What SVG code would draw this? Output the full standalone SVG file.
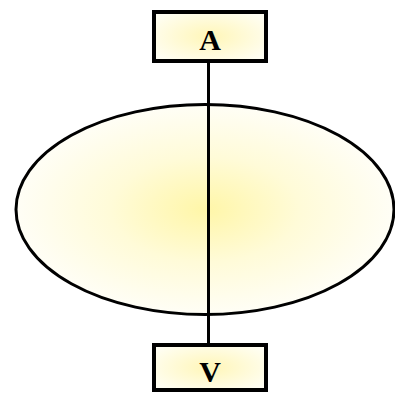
<svg xmlns="http://www.w3.org/2000/svg" width="395" height="393" viewBox="0 0 395 393">
<defs>
<radialGradient id="eg" cx="0.5" cy="0.5" r="0.5">
<stop offset="0" stop-color="#fff6a8"/>
<stop offset="0.5" stop-color="#fffbd8"/>
<stop offset="1" stop-color="#fffef6"/>
</radialGradient>
<radialGradient id="bg" cx="0.5" cy="0.5" r="0.6">
<stop offset="0" stop-color="#fff6b8"/>
<stop offset="1" stop-color="#fffef2"/>
</radialGradient>
<style>
.box{fill:url(#bg);stroke:#000;stroke-width:4}
.lbl{font-family:"Liberation Serif",serif;font-weight:bold;font-size:30px;text-anchor:middle;fill:#000}
.conn{stroke:#000;stroke-width:3;fill:none}
</style>
</defs>
<rect width="395" height="393" fill="#fff"/>
<g id="ellipse">
<ellipse cx="205" cy="209.5" rx="189" ry="105" fill="url(#eg)" stroke="#000" stroke-width="3"/>
</g>
<g id="connectors">
<line class="conn" x1="208.5" y1="62" x2="208.5" y2="345"/>
</g>
<g id="nodeA">
<rect class="box" x="154" y="12" width="112" height="49"/>
<text class="lbl" x="210" y="50">A</text>
</g>
<g id="nodeV">
<rect class="box" x="154" y="345" width="112" height="45"/>
<text class="lbl" x="210" y="382">V</text>
</g>
</svg>
